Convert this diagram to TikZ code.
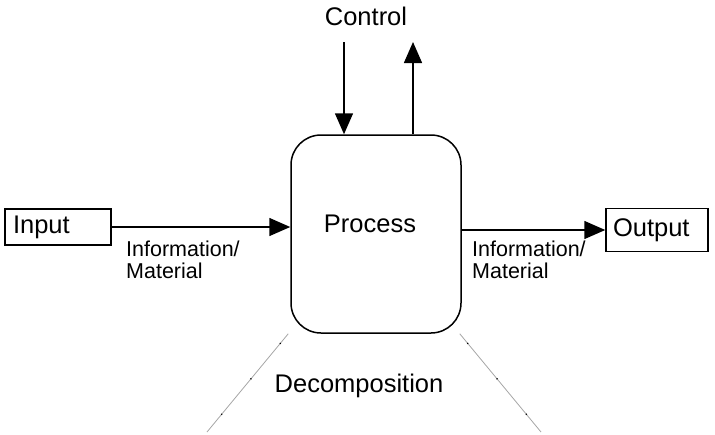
\documentclass[tikz,border=0pt]{standalone}
\usepackage{fontspec}
\setmainfont{Liberation Sans}
\usetikzlibrary{arrows.meta}

\begin{document}
\begin{tikzpicture}[x=1pt,y=-1pt,
    box/.style={draw, line width=1.5pt, inner sep=0pt},
    flow/.style={line width=1.5pt, -{Triangle[length=21pt,width=18pt]}},
    big/.style={font=\fontsize{25.5}{29}\selectfont},
    small/.style={font=\fontsize{21.5}{22}\selectfont, align=left, inner sep=0pt},
    decomp/.style={gray!70, line width=0.8pt}]
    \useasboundingbox (0,0) rectangle (715,434);
    % blocks
    \node[box, big, minimum height=36pt, text width=90pt, inner xsep=8pt, align=left] (in) at (58,227) {Input};
    \node[box, big, minimum height=43pt, text width=88pt, inner xsep=7pt, align=left] (out) at (657,230) {Output};
    \node[box, rounded corners=30pt, minimum width=170pt, minimum height=198pt] (proc) at (376,234) {};
    \node[big] (proctext) at (370,224) {Process};
    \node[big] (ctrl) at (366,16) {Control};
    \node[big] (dec) at (359,386) {Decomposition};
    % flows
    \coordinate (cin) at (344,42);
    \coordinate (cout) at (413,42);
    \draw[flow] (in.east) -- (in.east -| proc.west);
    \draw[flow] (proc.east |- out.west) -- (out.west);
    \draw[flow] (cin) -- (cin |- proc.north);
    \draw[flow] (cout |- proc.north) -- (cout);
    \node[small, anchor=north west] (infoin) at (126,241) {Information/\\Material};
    \node[small, anchor=north west] (infoout) at (472,241) {Information/\\Material};
    % decomposition
    \coordinate (dl) at (207,432);
    \coordinate (dr) at (541,432);
    \foreach \a/\b in {proc.south west/dl, proc.south east/dr}
    {
      \draw[decomp] ([xshift=-2pt]\a) -- (\b);
      \draw[line width=1.3pt, dash pattern=on 1pt off 45pt, dash phase=-12pt] ([xshift=-2pt]\a) -- (\b);
    }
\end{tikzpicture}
\end{document}
